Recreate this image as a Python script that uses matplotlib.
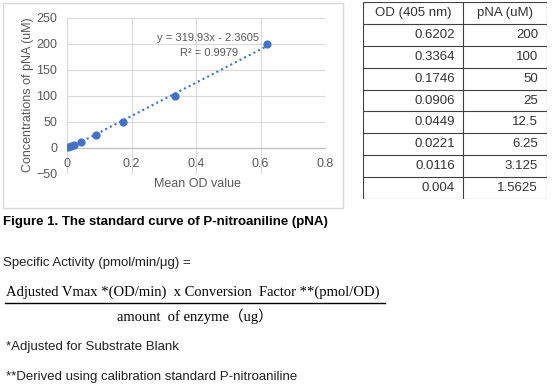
import numpy as np
import matplotlib
matplotlib.use('Agg')
import matplotlib.pyplot as plt
from matplotlib.patches import Rectangle
from matplotlib.lines import Line2D

# standard curve data (table values)
od_405 = [0.6202, 0.3364, 0.1746, 0.0906, 0.0449, 0.0221, 0.0116, 0.004]
pna_um = [200, 100, 50, 25, 12.5, 6.25, 3.125, 1.5625]
od_labels = ['0.6202', '0.3364', '0.1746', '0.0906', '0.0449', '0.0221', '0.0116', '0.004']
pna_labels = ['200', '100', '50', '25', '12.5', '6.25', '3.125', '1.5625']
table_header = ['OD (405 nm)', 'pNA (uM)']

# trendline from the chart label
slope = 319.93
intercept = -2.3605
r_squared = 0.9979

W, H = 552, 391
fig = plt.figure(figsize=(W / 100, H / 100), dpi=100)
fig.patch.set_facecolor('white')

def fx(px):
    return px / W

def fy(py):
    return 1 - py / H

SANS = 'Liberation Sans'
SERIF = ['Liberation Serif', 'Noto Sans CJK SC']
GREY = '#595959'
BLUE = '#4472C4'

# ---- chart frame ----
fig.patches.append(Rectangle((fx(3), fy(208)), fx(340), 205 / H, transform=fig.transFigure,
                             fill=False, edgecolor='#d9d9d9', lw=1))

ax = fig.add_axes([fx(67), fy(174), fx(258), 156 / H])
ax.set_xlim(0, 0.8)
ax.set_ylim(-50, 250)
ax.set_xticks(np.arange(0, 0.81, 0.2))
ax.set_yticks(np.arange(-50, 251, 50))
ax.set_xticklabels(['0', '0.2', '0.4', '0.6', '0.8'])
ax.grid(True, color='#d9d9d9', lw=0.8)
ax.set_axisbelow(True)
for s in ['top', 'right', 'left']:
    ax.spines[s].set_visible(False)
ax.spines['bottom'].set_position(('data', 0))
ax.spines['bottom'].set_color('#bfbfbf')
ax.tick_params(length=0, labelsize=9, labelcolor=GREY, pad=7)
for lab in ax.get_xticklabels() + ax.get_yticklabels():
    lab.set_fontfamily(SANS)

ax.scatter(od_405, pna_um, s=24, color=BLUE, zorder=3)
xs = np.array([min(od_405), max(od_405)])
ax.plot(xs, slope * xs + intercept, color=BLUE, lw=1.5, ls=(0, (1, 1.5)), zorder=2)
ax.text(0.437, 211, f'y = {slope}x - {-intercept}', fontsize=8, color=GREY, family=SANS,
        ha='center', va='center')
ax.text(0.44, 183, f'R² = {r_squared}', fontsize=8, color=GREY, family=SANS,
        ha='center', va='center')

fig.text(fx(28), fy(95), 'Concentrations of pNA (uM)', rotation=90, fontsize=9, color=GREY,
         family=SANS, ha='center', va='center')
fig.text(fx(197), fy(184), 'Mean OD value', fontsize=9, color=GREY, family=SANS,
         ha='center', va='center')

# ---- table ----
tx = fig.add_axes([fx(363), fy(199), fx(184), 197 / H])
tx.set_xlim(0, 184)
tx.set_ylim(9, 0)
tx.axis('off')
nrows = len(od_labels) + 1
tx.hlines(np.arange(nrows + 1), 0, 184, color='#404040', lw=0.8)
tx.vlines([0, 100, 184], 0, nrows, color='#404040', lw=0.8)
tx.text(50, 0.5, table_header[0], ha='center', va='center', fontsize=9.5, family=SANS, color='#333333')
tx.text(142, 0.5, table_header[1], ha='center', va='center', fontsize=9.5, family=SANS, color='#333333')
for i, (a, b) in enumerate(zip(od_labels, pna_labels)):
    tx.text(92, i + 1.5, a, ha='right', va='center', fontsize=9.5, family=SANS, color='#333333')
    tx.text(175, i + 1.5, b, ha='right', va='center', fontsize=9.5, family=SANS, color='#333333')

# ---- text below ----
fig.text(fx(3), fy(222), 'Figure 1. The standard curve of P-nitroaniline (pNA)', fontsize=9.5,
         fontweight='bold', family=SANS, color='black', va='center')
fig.text(fx(3), fy(263), 'Specific Activity (pmol/min/μg) =', fontsize=9.5, family=SANS,
         color='#222222', va='center')
fig.text(fx(6), fy(292), 'Adjusted Vmax *(OD/min)  x Conversion  Factor **(pmol/OD)',
         fontsize=10.5, family=SERIF, color='black', va='center')
fig.lines.append(Line2D([fx(5), fx(385)], [fy(303), fy(303)], transform=fig.transFigure,
                        color='black', lw=1))
fig.text(fx(195), fy(316), 'amount  of enzyme（ug）', fontsize=10.5, family=SERIF,
         color='black', ha='center', va='center')
fig.text(fx(6), fy(347), '*Adjusted for Substrate Blank', fontsize=9.5, family=SANS,
         color='#222222', va='center')
fig.text(fx(6), fy(377), '**Derived using calibration standard P-nitroaniline', fontsize=9.5,
         family=SANS, color='#222222', va='center')

fig.savefig('out.png', dpi=100)
